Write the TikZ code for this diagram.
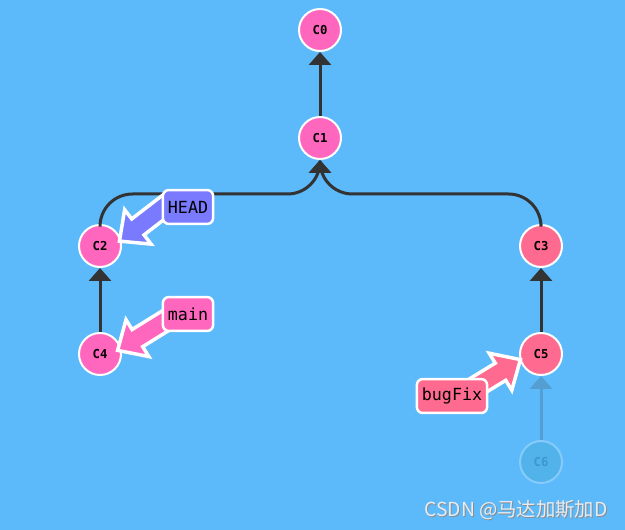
\documentclass[tikz,border=0pt]{standalone}
\usepackage{fontspec}
\setmonofont{DejaVu Sans Mono}
\newfontfamily\cjk{Noto Sans CJK SC}
\usepackage{tikz}
\usetikzlibrary{arrows.meta, positioning, calc}
\definecolor{bgblue}{HTML}{5CB9FA}
\definecolor{commitpink}{HTML}{FF66BD}
\definecolor{branchred}{HTML}{FF6B90}
\definecolor{headblue}{HTML}{7A7AFF}
\definecolor{edgegray}{HTML}{333333}
\definecolor{fadefill}{HTML}{52B3EA}
\definecolor{fadetext}{HTML}{3A97CF}
\definecolor{markgray}{HTML}{E6ECF2}
% fat branch pointer, tip at the origin, body along +x
\newcommand\ptrshape[1]{(2,0) -- (17,14) -- (17,6.5) -- (#1,6.5) -- (#1,-6.5) -- (17,-6.5) -- (17,-14) -- cycle}

\begin{document}
\begin{tikzpicture}[x=0.02cm, y=-0.02cm,
    commit/.style={circle, draw=white, line width=0.04cm, fill=commitpink,
                minimum size=0.84cm, inner sep=0pt, font=\ttfamily\bfseries\scriptsize},
    ghost/.style={commit, draw=white!25!bgblue, fill=fadefill, text=fadetext},
    branch/.style={draw=white, line width=0.05cm, rounded corners=0.12cm,
                minimum height=0.68cm, inner xsep=0.1cm,
                font=\ttfamily\fontsize{9.5}{11}\selectfont},
    edge/.style={-{Triangle[width=0.44cm, length=0.26cm]}, line width=0.06cm, edgegray},
    ptr/.style={draw=white, line width=0.07cm, line join=miter},
    ptrframe/.style={scale=1.55},
  ]
    \fill[bgblue] (0,0) rectangle (625,530);
    % commits
    \node[commit] (c0) at (320, 30) {C0};
    \node[commit] (c1) at (320,138) {C1};
    \node[commit] (c2) at (100,246) {C2};
    \node[commit, fill=branchred] (c3) at (541,246) {C3};
    \node[commit] (c4) at (100,354) {C4};
    \node[commit, fill=branchred] (c5) at (541,354) {C5};
    \node[ghost] (c6) at (541,462) {C6};
    % parent links
    \draw[edge] (c1.north) -- (c0.south);
    \draw[edge, rounded corners=0.65cm] (c2.north) |- ($(c1.south)+(0,34)$) -- (c1.south);
    \draw[edge, rounded corners=0.65cm] (c3.north) |- ($(c1.south)+(0,34)$) -- (c1.south);
    \draw[edge] (c4.north) -- (c2.south);
    \draw[edge] (c5.north) -- (c3.south);
    \draw[edge, draw=edgegray!20!bgblue, fill=edgegray!20!bgblue] (c6.north) -- (c5.south);
    % branch pointers
    \begin{scope}[shift={($(c2.center)+(17,-3)$)}, rotate=37.6, ptrframe]
      \filldraw[ptr, fill=headblue] \ptrshape{46};
    \end{scope}
    \begin{scope}[shift={($(c4.center)+(15,-2)$)}, rotate=31.8, ptrframe]
      \filldraw[ptr, fill=commitpink] \ptrshape{46};
    \end{scope}
    \begin{scope}[shift={($(c5.center)+(-18,4)$)}, rotate=211.4, ptrframe]
      \filldraw[ptr, fill=branchred] \ptrshape{38};
    \end{scope}
    \node[branch, fill=headblue]   (head) at (188,207) {HEAD};
    \node[branch, fill=commitpink] (main) at (188,314) {main};
    \node[branch, fill=branchred]  (fix)  at (452,396) {bugFix};
    % watermark
    \node[text=black!45, font=\cjk\fontsize{11}{13}\selectfont] (markshadow) at (517,511) {CSDN @马达加斯加D};
    \node[text=markgray, font=\cjk\fontsize{11}{13}\selectfont] (mark) at (516,510) {CSDN @马达加斯加D};
  \end{tikzpicture}
\end{document}
